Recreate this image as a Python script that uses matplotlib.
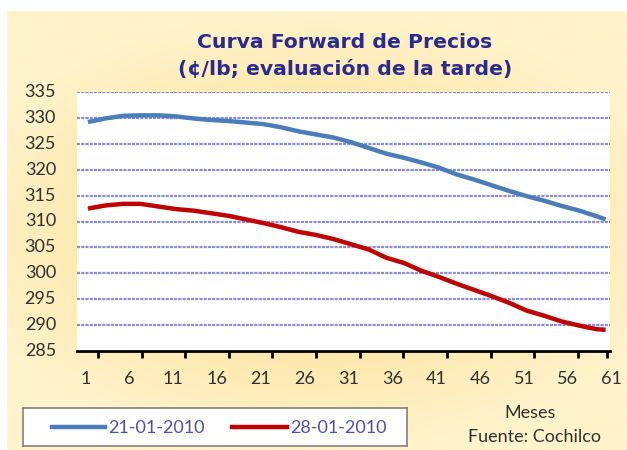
import numpy as np
import matplotlib
matplotlib.use("Agg")
import matplotlib.pyplot as plt
from matplotlib.colors import LinearSegmentedColormap
from matplotlib.lines import Line2D

# ---- data ----
months = [1, 3, 5, 7, 9, 11, 13, 15, 17, 19, 21, 23, 25, 27, 29, 31, 33, 35,
          37, 39, 41, 43, 45, 47, 49, 51, 53, 55, 57, 59, 60]
serie_21 = [329.2, 329.9, 330.4, 330.5, 330.5, 330.3, 329.9, 329.6, 329.4, 329.1,
            328.8, 328.2, 327.4, 326.8, 326.2, 325.3, 324.2, 323.1, 322.3, 321.4,
            320.4, 319.1, 318.1, 317.0, 315.9, 314.9, 314.0, 313.0, 312.1, 311.0,
            310.4]
serie_28 = [312.5, 313.1, 313.4, 313.4, 312.9, 312.4, 312.1, 311.6, 311.1, 310.4,
            309.7, 308.9, 308.0, 307.4, 306.6, 305.6, 304.6, 303.0, 302.0, 300.5,
            299.3, 298.0, 296.8, 295.6, 294.3, 292.8, 291.8, 290.7, 289.9, 289.2,
            289.1]
x_labels = ["1", "6", "11", "16", "21", "26", "31", "36", "41", "46", "51", "56", "61"]
y_ticks = [285, 290, 295, 300, 305, 310, 315, 320, 325, 330, 335]
legend_labels = ["21-01-2010", "28-01-2010"]

FONT = ["Lato", "DejaVu Sans"]
W, H = 627, 450
fig = plt.figure(figsize=(W / 100, H / 100), dpi=100)
fig.patch.set_facecolor("white")

# background panel with soft gradient
bg = fig.add_axes([7 / W, 0, 1 - 7 / W, 1 - 11 / H])
bg.set_axis_off()
gx = np.linspace(-1, 1, 300)
gy = np.linspace(-1, 1, 220)
GX, GY = np.meshgrid(gx, gy)
Rg = np.clip(1 - np.sqrt((GX * 0.85) ** 2 + (GY * 1.0) ** 2), 0, 1)
cmap = LinearSegmentedColormap.from_list("bgy", ["#FFF3CB", "#FDE6A8", "#FCDC92"])
bg.imshow(Rg, cmap=cmap, aspect="auto", extent=[0, 1, 0, 1], vmin=0, vmax=1)
bg.set_xlim(0, 1)
bg.set_ylim(0, 1)

# main axes
L, Rr, T, B = 77, 610, 92, 351
ax = fig.add_axes([L / W, (H - B) / H, (Rr - L) / W, (B - T) / H])
ax.set_facecolor("white")

ax.plot(months, serie_21, color="#4A7EBB", lw=3.2, solid_capstyle="butt", zorder=3)
ax.plot(months, serie_28, color="#C00000", lw=3.2, solid_capstyle="butt", zorder=3)

ax.set_ylim(285, 335)
ax.set_xlim(-0.25, 60.5)
for yv in y_ticks[1:]:
    ax.axhline(yv, color="#8C8CD2", lw=1.6, ls=(0, (1.4, 0.5)), zorder=1)

# y labels, placed left of the plot area in axes-y coordinates
ax.set_yticks([])
label_x = (56 - L) / (Rr - L)  # axes-fraction x for right edge of labels
for yv in y_ticks:
    ax.text(label_x, yv, str(yv), transform=ax.get_yaxis_transform(),
            ha="right", va="center", fontsize=13, color="#303030",
            family=FONT, clip_on=False)

# x tick marks (offset from label positions, as in the source)
tick_pos = [2.15 + 4.97 * k for k in range(12)] + [60.2]
ax.set_xticks(tick_pos)
ax.set_xticklabels([])
ax.tick_params(axis="x", length=5, width=2, color="black", direction="out")

# x labels
label_pos = [0.7 + 5.0 * k for k in range(13)]
for p, t in zip(label_pos, x_labels):
    ax.text(p, -0.11, t, transform=ax.get_xaxis_transform(), ha="center", va="center",
            fontsize=13, color="#303030", family=FONT, clip_on=False)

for s in ["left", "right", "top"]:
    ax.spines[s].set_visible(False)
ax.spines["bottom"].set_linewidth(2)
ax.spines["bottom"].set_color("black")

# title
fig.text(345 / W, 1 - 42 / H, "Curva Forward de Precios", ha="center", va="center",
         fontsize=14.7, fontweight="bold", color="#2B2B8F", family="DejaVu Sans")
fig.text(345 / W, 1 - 69 / H, "(¢/lb; evaluación de la tarde)", ha="center", va="center",
         fontsize=14.7, fontweight="bold", color="#2B2B8F", family="DejaVu Sans")

# legend box
lb = fig.add_axes([23 / W, (H - 446) / H, (407 - 23) / W, (446 - 408) / H])
lb.set_xlim(0, 384)
lb.set_ylim(0, 38)
lb.set_facecolor("white")
for s in lb.spines.values():
    s.set_color("#808080")
    s.set_linewidth(1.2)
lb.set_xticks([])
lb.set_yticks([])
lb.add_line(Line2D([29, 82], [19, 19], color="#4A7EBB", lw=3.2))
lb.text(85, 18, legend_labels[0], ha="left", va="center", fontsize=13,
        color="#5050AA", family=FONT)
lb.add_line(Line2D([209, 264], [19, 19], color="#C00000", lw=3.2))
lb.text(267, 18, legend_labels[1], ha="left", va="center", fontsize=13,
        color="#5050AA", family=FONT)

fig.text(530 / W, 1 - 413 / H, "Meses", ha="center", va="center", fontsize=13,
         color="#303030", family=FONT)
fig.text(535 / W, 1 - 437 / H, "Fuente: Cochilco", ha="center", va="center", fontsize=13,
         color="#303030", family=FONT)

fig.savefig("out.png", dpi=100, facecolor=fig.get_facecolor())
